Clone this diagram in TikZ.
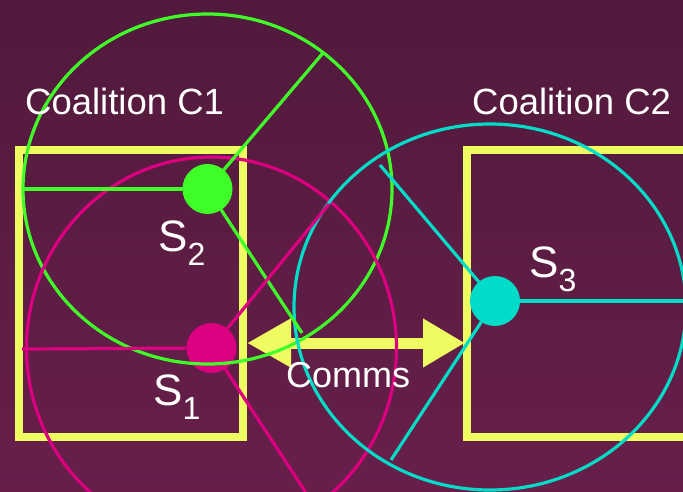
\documentclass[tikz,border=0pt]{standalone}
\usepackage{fontspec}
\setmainfont{Liberation Sans}
\usetikzlibrary{arrows.meta}
\definecolor{bgtop}{RGB}{81,26,60}
\definecolor{bgbot}{RGB}{103,31,74}
\definecolor{cyel}{RGB}{238,252,98}
\definecolor{cgreen}{RGB}{64,255,40}
\definecolor{cmag}{RGB}{218,0,128}
\definecolor{ccyan}{RGB}{0,220,200}
\newcommand{\subsc}[1]{\raisebox{-14pt}{\fontsize{32}{32}\selectfont #1}}
\begin{document}
\begin{tikzpicture}[x=1pt,y=-1pt,
  coalition/.style={draw=cyel,line width=8pt,inner sep=0pt,outer sep=0pt,anchor=north west},
  sensrange/.style={line width=3.2pt},
  sensray/.style={line width=3.2pt},
  sensdot/.style={circle,inner sep=0pt,outer sep=0pt,minimum size=50pt},
  lbl/.style={text=white,inner sep=0pt,anchor=base west,font=\fontsize{36.5}{36.5}\selectfont},
  slbl/.style={text=white,inner sep=0pt,anchor=base west,font=\fontsize{44}{44}\selectfont},
  comm/.style={draw=cyel,line width=11pt,{Triangle[length=44pt,width=46pt]}-{Triangle[length=42pt,width=46pt]}}]
\fill[top color=bgtop,bottom color=bgbot] (0,0) rectangle (683,492);
\useasboundingbox (0,0) rectangle (683,492);
\clip (0,0) rectangle (683,492);
% coalitions
\node[coalition,minimum width=224pt,minimum height=287pt] (c1) at (19,150) {};
\node[coalition,minimum width=240pt,minimum height=287pt] (c2) at (467,150) {};
% comms arrow
\coordinate (al) at (247,343);
\coordinate (ar) at (465,343);
\draw[comm] (al) -- (ar);
% sensors
\node[sensdot,fill=cgreen] (s2) at (207.5,189) {};
\node[sensdot,fill=cmag] (s1) at (211.5,348) {};
\node[sensdot,fill=ccyan] (s3) at (495,301) {};
% ranges
\draw[sensrange,cgreen] (s2.center) ellipse [x radius=184.5, y radius=175];
\draw[sensrange,cmag] (s1.center) ellipse [x radius=185, y radius=191];
\draw[sensrange,ccyan] (490,307) ellipse [x radius=196, y radius=183];
% rays
\coordinate (g1) at (22,189);
\coordinate (g2) at (323,53);
\coordinate (g3) at (302,333);
\coordinate (m1) at (22,349);
\coordinate (m2) at (329,204);
\coordinate (m3) at (316,508);
\coordinate (k1) at (380,165);
\coordinate (k2) at (690,301);
\coordinate (k3) at (391,460);
\draw[sensray,cgreen] (s2) -- (g1);
\draw[sensray,cgreen] (s2) -- (g2);
\draw[sensray,cgreen] (s2) -- (g3);
\draw[sensray,cmag] (s1) -- (m1);
\draw[sensray,cmag] (s1) -- (m2);
\draw[sensray,cmag] (s1) -- (m3);
\draw[sensray,ccyan] (s3) -- (k1);
\draw[sensray,ccyan] (s3) -- (k2);
\draw[sensray,ccyan] (s3) -- (k3);
% labels
\node[lbl] (t1) at (25,115) {Coalition C1};
\node[lbl] (t2) at (472,115) {Coalition C2};
\node[slbl] (l2) at (158,251) {S\subsc{2}};
\node[slbl] (l1) at (153,405) {S\subsc{1}};
\node[slbl] (l3) at (529,277) {S\subsc{3}};
\node[lbl,font=\fontsize{36}{36}\selectfont] (cm) at (286,387) {Comms};
\end{tikzpicture}
\end{document}
